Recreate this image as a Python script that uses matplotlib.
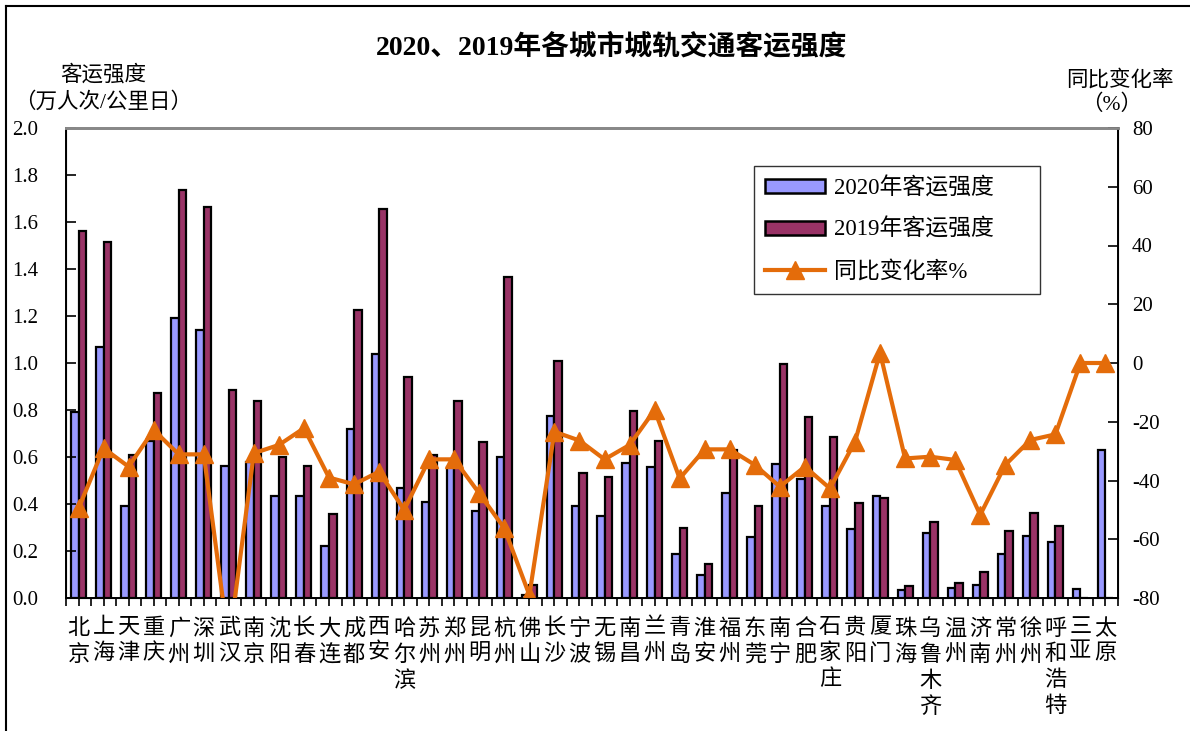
import numpy as np
import matplotlib.pyplot as plt
from matplotlib.lines import Line2D

plt.rcParams['font.family'] = ['Liberation Serif', 'Noto Sans CJK SC']

cities = ["北京", "上海", "天津", "重庆", "广州", "深圳", "武汉", "南京", "沈阳", "长春",
          "大连", "成都", "西安", "哈尔滨", "苏州", "郑州", "昆明", "杭州", "佛山", "长沙",
          "宁波", "无锡", "南昌", "兰州", "青岛", "淮安", "福州", "东莞", "南宁", "合肥",
          "石家庄", "贵阳", "厦门", "珠海", "乌鲁木齐", "温州", "济南", "常州", "徐州", "呼和浩特",
          "三亚", "太原"]
v2020 = [0.79, 1.07, 0.39, 0.67, 1.19, 1.14, 0.56, 0.58, 0.435, 0.435,
         0.22, 0.72, 1.04, 0.47, 0.41, 0.556, 0.37, 0.60, 0.012, 0.774,
         0.39, 0.349, 0.576, 0.559, 0.187, 0.098, 0.448, 0.261, 0.569, 0.505,
         0.39, 0.292, 0.435, 0.034, 0.275, 0.044, 0.055, 0.187, 0.264, 0.237,
         0.037, 0.63]
v2019 = [1.563, 1.513, 0.608, 0.874, 1.736, 1.664, 0.885, 0.84, 0.601, 0.563,
         0.357, 1.226, 1.654, 0.939, 0.608, 0.84, 0.662, 1.365, 0.055, 1.009,
         0.531, 0.514, 0.796, 0.668, 0.299, 0.143, 0.63, 0.391, 0.994, 0.769,
         0.685, 0.403, 0.427, 0.051, 0.325, 0.065, 0.109, 0.285, 0.363, 0.308,
         0.0, 0.0]
yoy = [-49.5, -29, -35.3, -22.8, -31.1, -31.1, -96, -30.7, -27.9, -22.2,
       -39, -41.3, -37, -50, -32.8, -32.8, -44.4, -56.3, -79, -23.4,
       -26.4, -32.8, -27.9, -16, -39.3, -29.4, -29.4, -34.7, -42.1, -35.3,
       -42.7, -26.8, 3.5, -32.5, -31.9, -33, -51.7, -34.7, -26.2, -24.3,
       0, 0]

blue = '#9999FF'
red = '#993366'
orange = '#E46C0A'

fig = plt.figure(figsize=(11.9, 7.31), dpi=100)
ax = fig.add_axes([66/1190, 133/731, 1052/1190, 470/731])
x = np.arange(len(cities))
w = 0.3
ax.bar(x - w/2, v2020, w, color=blue, edgecolor='black', linewidth=1.6, label='2020年客运强度')
ax.bar(x + w/2, v2019, w, color=red, edgecolor='black', linewidth=1.6, label='2019年客运强度')
ax.set_xlim(-0.5, len(cities) - 0.5)
ax.set_ylim(0, 2.0)
ax.set_yticks(np.arange(0, 2.01, 0.2))
ax.set_yticklabels(['%.1f' % v for v in np.arange(0, 2.01, 0.2)], fontsize=15)
ax.tick_params(axis='y', direction='in', length=7, width=1.2, pad=39)
for lab in ax.get_yticklabels():
    lab.set_horizontalalignment('left')

ticks = np.arange(-0.5, len(cities), 0.5)
ax.set_xticks(ticks)
ax.set_xticklabels([])
ax.tick_params(axis='x', direction='out', length=6, width=1.2)
for i, c in enumerate(cities):
    ax.text(i, -0.09, '\n'.join(c), ha='center', va='top', fontsize=16,
            linespacing=1.35, transform=ax.transData)

ax.spines['top'].set_color('#888888')
ax.spines['top'].set_linewidth(2)
for s in ['left', 'bottom']:
    ax.spines[s].set_linewidth(1.4)

ax2 = ax.twinx()
ax2.plot(x, yoy, color=orange, linewidth=3, marker='^', markersize=13, label='同比变化率%')
ax2.set_ylim(-80, 80)
ax2.set_yticks(np.arange(-80, 81, 20))
ax2.set_yticklabels([str(v) for v in range(-80, 81, 20)], fontsize=15)
ax2.tick_params(axis='y', direction='in', length=7, width=1.2, pad=10)
ax2.spines['right'].set_linewidth(1.4)
ax2.spines['top'].set_color('#888888')
ax2.spines['top'].set_linewidth(2)

handles = [plt.Rectangle((0, 0), 1, 1, facecolor=blue, edgecolor='black', linewidth=1.8),
           plt.Rectangle((0, 0), 1, 1, facecolor=red, edgecolor='black', linewidth=1.8),
           Line2D([], [], color=orange, linewidth=3, marker='^', markersize=13)]
leg = ax2.legend(handles, ['2020年客运强度', '2019年客运强度', '同比变化率%'],
                 loc='upper left', fontsize=16.5, mode='expand',
                 bbox_to_anchor=(688/1052, 1 - 163/470, 286/1052, 125/470),
                 frameon=True, fancybox=False, edgecolor='black', handlelength=2.6,
                 handleheight=0.55, labelspacing=0.85, borderpad=0.5, handletextpad=0.4,
                 borderaxespad=0)
leg.get_frame().set_linewidth(1.0)
leg._legend_box.align = 'left'

fig.text(612/1190, 1 - 47/731, '2020、2019年各城市城轨交通客运强度', ha='center', va='center',
         fontsize=20, fontweight='bold')
fig.text(103/1190, 1 - 75/731, '客运强度', ha='center', va='center', fontsize=15.5)
fig.text(103/1190, 1 - 102/731, '（万人次/公里日）', ha='center', va='center', fontsize=15.5)
fig.text(1120/1190, 1 - 80/731, '同比变化率', ha='center', va='center', fontsize=15.5)
fig.text(1112/1190, 1 - 105/731, '（%）', ha='center', va='center', fontsize=15.5)

# outer frame (left and top edges visible)
fig.add_artist(Line2D([6/1190, 6/1190], [0, 1 - 6/731], color='black', linewidth=1.5,
                      transform=fig.transFigure))
fig.add_artist(Line2D([6/1190, 1], [1 - 6/731, 1 - 6/731], color='black', linewidth=1.5,
                      transform=fig.transFigure))

fig.savefig('out.png', dpi=100)
